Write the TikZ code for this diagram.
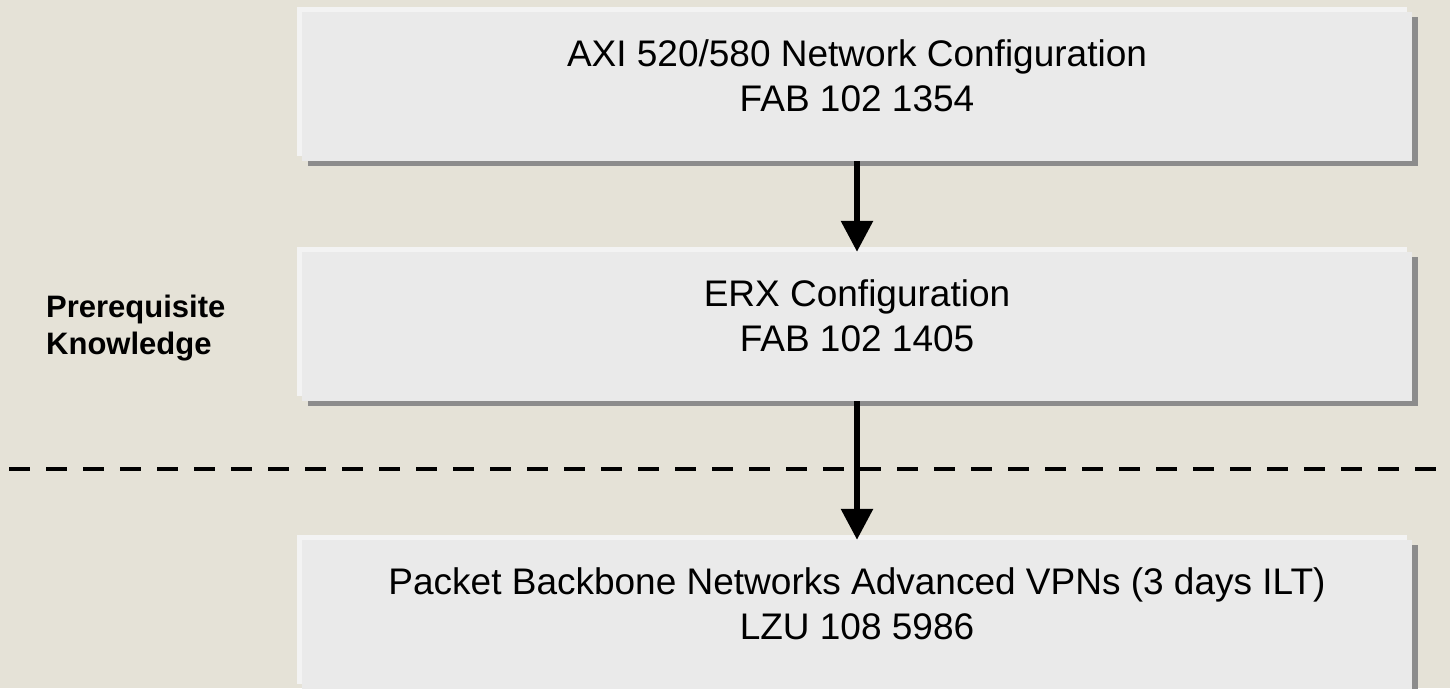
\documentclass[tikz,border=0pt]{standalone}
\usepackage{fontspec}
\setmainfont{Liberation Sans}
\usetikzlibrary{arrows.meta,shadows}
\definecolor{bgcol}{HTML}{E5E2D7}
\definecolor{boxfill}{HTML}{EAEAEA}
\definecolor{lightframe}{HTML}{F3F3F3}
\definecolor{shadowgray}{HTML}{8C8C8C}
\tikzset{
  coursebox/.style={rectangle, inner sep=0pt, minimum width=1110pt, minimum height=149pt,
    fill=boxfill,
    general shadow={fill=shadowgray, shadow xshift=5.5pt, shadow yshift=-5pt},
    general shadow={fill=lightframe, shadow xshift=-5pt, shadow yshift=5.5pt}},
  boxtext/.style={inner sep=0pt, align=center, font=\fontsize{37pt}{45pt}\selectfont},
  sidelabel/.style={inner sep=0pt, align=left, anchor=west, font=\fontsize{31pt}{37pt}\selectfont\bfseries},
  flowarrow/.style={line width=6pt, -{Triangle[width=31pt,length=31pt]}},
  separator/.style={line width=4.5pt, dash pattern=on 21pt off 16pt}
}
\begin{document}
\begin{tikzpicture}[x=1pt,y=-1pt]
\fill[bgcol] (0,0) rectangle (1450,688);
\useasboundingbox (0,0) rectangle (1450,688);

\node[coursebox] (b1) at (857,86.5) {};
\node[coursebox] (b2) at (857,326.5) {};
\node[coursebox] (b3) at (857,614.5) {};

\node[boxtext] (t1) at ([yshift=10.5pt]b1.center) {AXI 520/580 Network Configuration\\FAB 102 1354};
\node[boxtext] (t2) at ([yshift=10.5pt]b2.center) {ERX Configuration\\FAB 102 1405};
\node[boxtext] (t3) at ([yshift=10.5pt]b3.center) {Packet Backbone Networks Advanced VPNs (3 days ILT)\\LZU 108 5986};

\node[sidelabel] (pk) at (46,328.5) {Prerequisite\\Knowledge};

\coordinate (sepL) at (9,469);
\coordinate (sepR) at (1450,469);
\draw[separator] (sepL) -- (sepR);

\draw[flowarrow] (b1.south) -- (b2.north);
\draw[flowarrow] (b2.south) -- (b3.north);
\end{tikzpicture}
\end{document}
